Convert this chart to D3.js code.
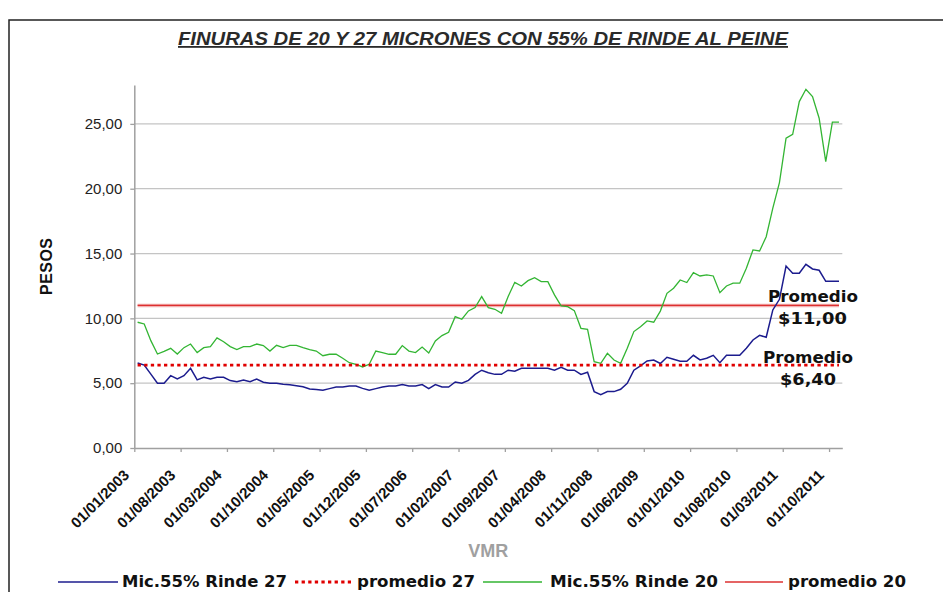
<!DOCTYPE html>
<html lang="es">
  <head>
    <meta charset="utf-8">
    <title>Finuras 20 y 27 micrones</title>
    <script src="https://d3js.org/d3.v7.min.js"></script>
    <style>
      body { margin: 0; background: #fff; }
      svg { display: block; }
    </style>
  </head>
  <body>
    <script type="text/javascript">
      // categorias: meses desde 01/2003 hasta 11/2011
      var months = d3.timeMonth.range(new Date(2003, 0, 1), new Date(2011, 11, 1));

      var tickLabels = ["01/01/2003", "01/08/2003", "01/03/2004", "01/10/2004", "01/05/2005",
        "01/12/2005", "01/07/2006", "01/02/2007", "01/09/2007", "01/04/2008", "01/11/2008",
        "01/06/2009", "01/01/2010", "01/08/2010", "01/03/2011", "01/10/2011"];

      // Mic.55% Rinde 27
      var rinde27 = [6.55, 6.4, 5.7, 5.0, 5.0, 5.58, 5.32, 5.58, 6.15, 5.25,
        5.45, 5.32, 5.45, 5.45, 5.2, 5.12, 5.25, 5.12, 5.32, 5.07,
        5.0, 5.0, 4.92, 4.87, 4.8, 4.73, 4.55, 4.52, 4.45, 4.58,
        4.7, 4.7, 4.78, 4.78, 4.6, 4.45, 4.58, 4.7, 4.78, 4.78,
        4.89, 4.78, 4.78, 4.89, 4.58, 4.89, 4.7, 4.7, 5.09, 4.99,
        5.22, 5.68, 6.0, 5.81, 5.68, 5.68, 6.0, 5.92, 6.15, 6.15,
        6.15, 6.15, 6.15, 6.0, 6.22, 6.0, 6.0, 5.68, 5.84, 4.35,
        4.12, 4.35, 4.35, 4.53, 4.99, 6.0, 6.33, 6.71, 6.79, 6.52,
        7.0, 6.84, 6.69, 6.69, 7.15, 6.79, 6.92, 7.15, 6.58, 7.15,
        7.15, 7.15, 7.69, 8.33, 8.69, 8.54, 10.65, 11.47, 14.04, 13.48,
        13.48, 14.17, 13.81, 13.71, 12.86, 12.86, 12.86];

      // Mic.55% Rinde 20
      var rinde20 = [9.7, 9.57, 8.28, 7.25, 7.46, 7.69, 7.25, 7.74, 8.02, 7.36,
        7.74, 7.82, 8.49, 8.2, 7.82, 7.59, 7.82, 7.82, 8.02, 7.9,
        7.48, 7.92, 7.74, 7.92, 7.92, 7.74, 7.58, 7.48, 7.12, 7.23,
        7.23, 6.92, 6.58, 6.46, 6.25, 6.46, 7.48, 7.36, 7.23, 7.23,
        7.9, 7.48, 7.36, 7.79, 7.33, 8.26, 8.67, 8.93, 10.13, 9.93,
        10.57, 10.83, 11.68, 10.83, 10.7, 10.39, 11.68, 12.78, 12.5, 12.91,
        13.14, 12.83, 12.83, 11.81, 10.96, 10.9, 10.6, 9.23, 9.16, 6.66,
        6.53, 7.3, 6.79, 6.53, 7.69, 8.98, 9.36, 9.8, 9.7, 10.56,
        11.93, 12.32, 12.96, 12.76, 13.53, 13.27, 13.35, 13.27, 11.98, 12.5,
        12.71, 12.71, 13.86, 15.28, 15.2, 16.3, 18.5, 20.47, 23.9, 24.2,
        26.72, 27.67, 27.1, 25.44, 22.09, 25.13, 25.13];

      var promedio27 = months.map(function () { return 6.4; });
      var promedio20 = months.map(function () { return 11.0; });

      var yTicks = [0, 5, 10, 15, 20, 25];

      var w = 943, h = 592;
      var margin = {top: 85, left: 134.3, right: 100.7, bottom: 144};
      var innerWidth = w - margin.left - margin.right;

      var svg = d3.select("body").append("svg")
          .attr("width", w)
          .attr("height", h);

      svg.append("rect").attr("width", w).attr("height", h).attr("fill", "#fff");

      // marco del grafico
      svg.append("path")
          .attr("d", "M9," + h + "V20H" + w)
          .attr("fill", "none")
          .attr("stroke", "#222")
          .attr("stroke-width", 1.5);

      var xScale = d3.scaleLinear()
          .domain([0, months.length])
          .range([margin.left, margin.left + innerWidth]);

      var yScale = d3.scaleLinear()
          .domain([0, 28])
          .range([448, margin.top]);

      // grilla
      svg.append("g")
        .selectAll("line")
        .data(yTicks.filter(function (d) { return d > 0; }))
        .enter().append("line")
          .attr("x1", xScale(0))
          .attr("x2", xScale(months.length))
          .attr("y1", function (d) { return yScale(d); })
          .attr("y2", function (d) { return yScale(d); })
          .attr("stroke", "#c4c4c4")
          .attr("stroke-width", 1.3);

      // eje y
      var yAxis = d3.axisLeft(yScale)
          .tickValues(yTicks)
          .tickSize(4)
          .tickSizeOuter(0)
          .tickPadding(8)
          .tickFormat(function (d) { return d3.format(".2f")(d).replace(".", ","); });

      var gy = svg.append("g")
          .attr("transform", "translate(" + xScale(0) + ",0)")
          .call(yAxis);
      gy.select(".domain").attr("stroke", "#a0a0a0").attr("stroke-width", 1.5);
      gy.selectAll(".tick line").attr("stroke", "#a0a0a0").attr("stroke-width", 1.3);
      gy.selectAll(".tick text")
          .attr("font-family", "'Liberation Sans', Arial, sans-serif")
          .attr("font-size", "15px")
          .attr("fill", "#222");

      // eje x
      var xAxis = d3.axisBottom(xScale)
          .tickValues(d3.range(0, months.length, 7))
          .tickSize(4)
          .tickSizeOuter(0)
          .tickFormat("");

      var gx = svg.append("g")
          .attr("transform", "translate(0," + yScale(0) + ")")
          .call(xAxis);
      gx.select(".domain").attr("stroke", "#a0a0a0").attr("stroke-width", 1.5);
      gx.selectAll(".tick line").attr("stroke", "#a0a0a0").attr("stroke-width", 1.3);

      svg.append("g")
        .selectAll("text")
        .data(tickLabels)
        .enter().append("text")
          .attr("transform", function (d, i) {
            return "translate(" + (xScale(i * 7 + 0.5) - 7.5) + ",476) rotate(-45)";
          })
          .attr("text-anchor", "end")
          .attr("font-family", "'Liberation Sans', Arial, sans-serif")
          .attr("font-weight", "bold")
          .attr("font-size", "15px")
          .attr("fill", "#111")
          .text(function (d) { return d; });

      // lineas
      var line = d3.line()
          .x(function (d, i) { return xScale(i + 0.5); })
          .y(function (d) { return yScale(d); });

      svg.append("path").datum(promedio20)
          .attr("d", line).attr("fill", "none")
          .attr("stroke", "#f2b0b0").attr("stroke-width", 3.5);
      svg.append("path").datum(promedio20)
          .attr("d", line).attr("fill", "none")
          .attr("stroke", "#dd3030").attr("stroke-width", 1.2);

      svg.append("path").datum(rinde20)
          .attr("d", line).attr("fill", "none")
          .attr("stroke", "#33b533").attr("stroke-width", 1.3);

      svg.append("path").datum(rinde27)
          .attr("d", line).attr("fill", "none")
          .attr("stroke", "#1c1c8e").attr("stroke-width", 1.5);

      svg.append("path").datum(promedio27)
          .attr("d", line).attr("fill", "none")
          .attr("stroke", "#e00000").attr("stroke-width", 2.8)
          .attr("stroke-dasharray", "3.3,3.3");

      // etiquetas de promedio
      var bold = "'DejaVu Sans', Verdana, sans-serif";
      var notes = [
        {t: "Promedio", x: 813, y: 302, len: 90},
        {t: "$11,00", x: 812.5, y: 324, len: 69},
        {t: "Promedio", x: 808, y: 363, len: 90},
        {t: "$6,40", x: 808, y: 385, len: 56}
      ];
      svg.append("g").selectAll("text").data(notes).enter().append("text")
          .attr("x", function (d) { return d.x; })
          .attr("y", function (d) { return d.y; })
          .attr("text-anchor", "middle")
          .attr("font-family", bold)
          .attr("font-weight", "bold")
          .attr("font-size", "16.5px")
          .attr("fill", "#111")
          .attr("textLength", function (d) { return d.len; })
          .attr("lengthAdjust", "spacingAndGlyphs")
          .text(function (d) { return d.t; });

      // titulo
      svg.append("text")
          .attr("x", 483)
          .attr("y", 45)
          .attr("text-anchor", "middle")
          .attr("font-family", "'Liberation Sans Narrow', 'Arial Narrow', 'Liberation Sans', sans-serif")
          .attr("font-weight", "bold")
          .attr("font-style", "italic")
          .attr("font-size", "18px")
          .attr("text-decoration", "underline")
          .attr("fill", "#2a2a2a")
          .attr("textLength", 610)
          .attr("lengthAdjust", "spacingAndGlyphs")
          .text("FINURAS DE 20 Y 27 MICRONES CON 55% DE RINDE AL PEINE");

      // titulos de ejes
      svg.append("text")
          .attr("transform", "translate(52,266.5) rotate(-90)")
          .attr("text-anchor", "middle")
          .attr("font-family", "'Liberation Sans', Arial, sans-serif")
          .attr("font-weight", "bold")
          .attr("font-size", "16px")
          .attr("fill", "#111")
          .attr("textLength", 57)
          .text("PESOS");

      svg.append("text")
          .attr("x", 488.3)
          .attr("y", 557)
          .attr("text-anchor", "middle")
          .attr("font-family", "'Liberation Sans', Arial, sans-serif")
          .attr("font-weight", "bold")
          .attr("font-size", "18px")
          .attr("fill", "#a0a0a0")
          .text("VMR");

      // leyenda
      var legend = [
        {name: "Mic.55% Rinde 27", color: "#1c1c8e", dash: null, sw: 1.5, x1: 58, x2: 118, tx: 122, len: 165},
        {name: "promedio 27", color: "#e00000", dash: "3.3,3.3", sw: 2.8, x1: 295, x2: 351, tx: 357, len: 118},
        {name: "Mic.55% Rinde 20", color: "#33b533", dash: null, sw: 1.3, x1: 483, x2: 542, tx: 550, len: 168},
        {name: "promedio 20", color: "#dd3030", dash: null, sw: 1.3, x1: 725, x2: 783, tx: 788, len: 118}
      ];
      var lg = svg.append("g").selectAll("g").data(legend).enter().append("g");
      lg.append("line")
          .attr("x1", function (d) { return d.x1; })
          .attr("x2", function (d) { return d.x2; })
          .attr("y1", 582).attr("y2", 582)
          .attr("stroke", function (d) { return d.color; })
          .attr("stroke-width", function (d) { return d.sw; })
          .attr("stroke-dasharray", function (d) { return d.dash; });
      lg.append("text")
          .attr("x", function (d) { return d.tx; })
          .attr("y", 587)
          .attr("font-family", bold)
          .attr("font-weight", "bold")
          .attr("font-size", "15px")
          .attr("fill", "#111")
          .attr("textLength", function (d) { return d.len; })
          .attr("lengthAdjust", "spacingAndGlyphs")
          .text(function (d) { return d.name; });
    </script>
  </body>
</html>
